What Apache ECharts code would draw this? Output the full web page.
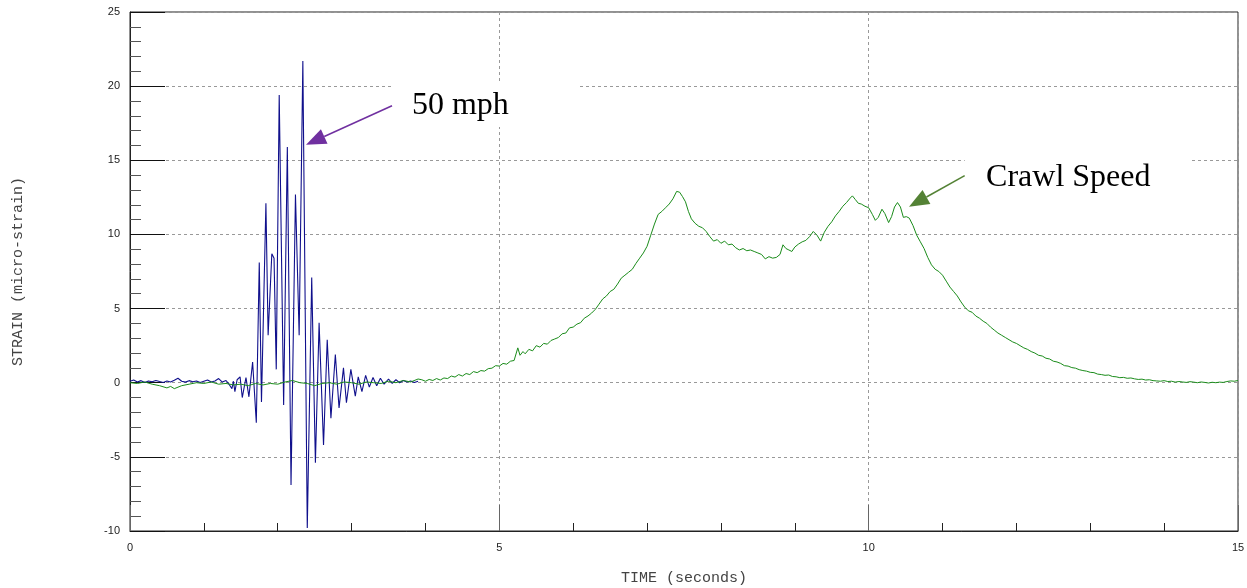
<!DOCTYPE html>
<html>
<head>
<meta charset="utf-8">
<script src="https://cdn.jsdelivr.net/npm/echarts@6/dist/echarts.min.js"></script>
<style>
  html, body { margin: 0; padding: 0; background: #fff; }
  #chart { width: 1247px; height: 588px; }
</style>
</head>
<body>
<div id="chart"></div>
<script>
// Strain record for one gauge: a truck passing at 50 mph and the same truck at crawl speed.
// Each entry is [time in seconds, strain in micro-strain].
const fastPass = [
  [0.00, 0.10], [0.05, 0.18], [0.10, 0.05], [0.15, 0.14], [0.20, 0.02], [0.25, 0.12],
  [0.30, 0.06], [0.35, 0.15], [0.40, 0.08], [0.45, 0.02], [0.50, 0.12], [0.55, 0.05],
  [0.60, 0.16], [0.65, 0.30], [0.70, 0.10], [0.75, 0.04], [0.80, 0.14], [0.85, 0.06],
  [0.90, 0.12], [0.95, 0.02], [1.00, 0.10], [1.05, 0.18], [1.10, 0.05], [1.15, 0.12],
  [1.20, 0.28], [1.25, 0.04], [1.30, 0.15], [1.34, -0.10], [1.38, -0.40], [1.40, 0.10],
  [1.42, -0.60], [1.45, 0.20], [1.49, 0.40], [1.52, -1.00], [1.57, 0.35], [1.61, -0.95],
  [1.66, 1.40], [1.71, -2.70], [1.75, 8.10], [1.78, -1.30], [1.84, 12.10], [1.87, 3.20],
  [1.92, 8.70], [1.95, 8.40], [1.98, 0.90], [2.02, 19.40], [2.08, -1.50], [2.13, 15.90],
  [2.18, -6.90], [2.24, 12.70], [2.29, 3.20], [2.34, 21.70], [2.40, -9.80], [2.46, 7.10],
  [2.51, -5.40], [2.56, 4.05], [2.62, -4.20], [2.67, 2.90], [2.72, -2.40], [2.78, 1.90],
  [2.83, -1.70], [2.89, 1.00], [2.93, -1.35], [2.99, 0.90], [3.05, -0.90], [3.09, 0.40],
  [3.14, -0.60], [3.19, 0.50], [3.24, -0.30], [3.29, 0.35], [3.34, -0.20], [3.39, 0.30],
  [3.44, -0.10], [3.50, 0.25], [3.55, -0.05], [3.60, 0.20], [3.65, 0.00], [3.70, 0.15],
  [3.75, 0.05], [3.80, 0.12], [3.85, 0.02], [3.90, 0.10]
];

const crawlPass = [
  [0.00, 0.00], [0.10, -0.05], [0.20, 0.05], [0.30, -0.10], [0.40, -0.20], [0.50, -0.35],
  [0.55, -0.25], [0.60, -0.40], [0.70, -0.20], [0.80, -0.10], [0.90, 0.00], [1.00, -0.05],
  [1.10, 0.05], [1.20, -0.10], [1.30, -0.05], [1.40, -0.15], [1.50, -0.10], [1.60, -0.20],
  [1.70, -0.05], [1.80, -0.15], [1.90, -0.05], [2.00, -0.10], [2.10, 0.05], [2.20, 0.15],
  [2.30, 0.00], [2.40, -0.05], [2.50, -0.20], [2.60, -0.05], [2.70, 0.00], [2.80, -0.10],
  [2.90, 0.05], [3.00, 0.00], [3.10, -0.10], [3.20, 0.05], [3.30, 0.00], [3.40, -0.05],
  [3.50, 0.10], [3.60, 0.00], [3.70, 0.15], [3.80, 0.05], [3.90, 0.25], [3.95, 0.20],
  [4.00, 0.10], [4.05, 0.22], [4.10, 0.15], [4.15, 0.28], [4.20, 0.18], [4.25, 0.32],
  [4.30, 0.28], [4.35, 0.45], [4.40, 0.38], [4.45, 0.55], [4.50, 0.45], [4.55, 0.62],
  [4.60, 0.55], [4.65, 0.75], [4.70, 0.68], [4.75, 0.82], [4.80, 0.78], [4.85, 0.95],
  [4.90, 0.98], [4.95, 1.15], [5.00, 1.12], [5.05, 1.30], [5.10, 1.25], [5.15, 1.45],
  [5.20, 1.50], [5.25, 2.35], [5.28, 1.85], [5.32, 2.10], [5.35, 1.95], [5.40, 2.25],
  [5.45, 2.15], [5.50, 2.50], [5.55, 2.40], [5.60, 2.65], [5.65, 2.60], [5.70, 2.85],
  [5.75, 2.95], [5.80, 3.05], [5.85, 3.30], [5.90, 3.35], [5.95, 3.70], [6.00, 3.75],
  [6.05, 3.95], [6.10, 4.05], [6.15, 4.35], [6.20, 4.50], [6.25, 4.70], [6.30, 4.95],
  [6.35, 5.30], [6.40, 5.65], [6.45, 5.85], [6.50, 6.15], [6.55, 6.30], [6.60, 6.65],
  [6.65, 7.05], [6.70, 7.25], [6.75, 7.45], [6.80, 7.65], [6.85, 8.05], [6.90, 8.40],
  [6.95, 8.75], [7.00, 9.20], [7.05, 9.95], [7.10, 10.70], [7.15, 11.35], [7.20, 11.55],
  [7.25, 11.80], [7.30, 12.05], [7.35, 12.40], [7.40, 12.90], [7.44, 12.85], [7.48, 12.55],
  [7.52, 12.20], [7.56, 11.55], [7.60, 11.05], [7.65, 10.75], [7.70, 10.55], [7.75, 10.45],
  [7.80, 10.20], [7.85, 9.85], [7.90, 9.55], [7.95, 9.65], [8.00, 9.40], [8.05, 9.55],
  [8.10, 9.30], [8.15, 9.35], [8.20, 9.10], [8.25, 8.95], [8.30, 9.05], [8.35, 8.90],
  [8.40, 8.95], [8.45, 8.85], [8.50, 8.75], [8.55, 8.65], [8.60, 8.35], [8.65, 8.50],
  [8.70, 8.40], [8.75, 8.45], [8.80, 8.65], [8.84, 9.30], [8.88, 9.05], [8.92, 8.95],
  [8.96, 8.85], [9.00, 9.15], [9.05, 9.35], [9.10, 9.50], [9.15, 9.60], [9.20, 9.85],
  [9.25, 10.20], [9.30, 9.95], [9.35, 9.55], [9.40, 10.15], [9.45, 10.55], [9.50, 10.85],
  [9.55, 11.25], [9.60, 11.55], [9.65, 11.90], [9.70, 12.15], [9.75, 12.45], [9.78, 12.60],
  [9.82, 12.35], [9.86, 12.10], [9.90, 12.05], [9.95, 11.90], [10.00, 11.80], [10.05, 11.35],
  [10.09, 10.95], [10.13, 11.15], [10.18, 11.70], [10.22, 11.40], [10.27, 10.80], [10.31, 11.20],
  [10.35, 11.85], [10.39, 12.15], [10.43, 11.85], [10.47, 11.15], [10.51, 11.20], [10.55, 11.10],
  [10.60, 10.60], [10.65, 9.95], [10.70, 9.50], [10.75, 9.05], [10.80, 8.45], [10.85, 7.95],
  [10.90, 7.65], [10.95, 7.50], [11.00, 7.25], [11.05, 6.85], [11.10, 6.45], [11.15, 6.15],
  [11.20, 5.85], [11.25, 5.45], [11.30, 5.10], [11.35, 4.85], [11.40, 4.75], [11.45, 4.50],
  [11.50, 4.35], [11.55, 4.15], [11.60, 4.00], [11.65, 3.75], [11.70, 3.55], [11.75, 3.35],
  [11.80, 3.20], [11.85, 3.05], [11.90, 2.90], [11.95, 2.75], [12.00, 2.65], [12.05, 2.50],
  [12.10, 2.35], [12.15, 2.25], [12.20, 2.10], [12.25, 2.00], [12.30, 1.85], [12.35, 1.80],
  [12.40, 1.65], [12.45, 1.60], [12.50, 1.45], [12.55, 1.40], [12.60, 1.30], [12.65, 1.15],
  [12.70, 1.12], [12.75, 1.02], [12.80, 0.98], [12.85, 0.88], [12.90, 0.82], [12.95, 0.78],
  [13.00, 0.70], [13.05, 0.68], [13.10, 0.58], [13.15, 0.55], [13.20, 0.50], [13.25, 0.52],
  [13.30, 0.42], [13.35, 0.40], [13.40, 0.34], [13.45, 0.36], [13.50, 0.30], [13.55, 0.32],
  [13.60, 0.26], [13.65, 0.22], [13.70, 0.24], [13.75, 0.18], [13.80, 0.20], [13.85, 0.14],
  [13.90, 0.12], [13.95, 0.10], [14.00, 0.14], [14.05, 0.08], [14.10, 0.10], [14.15, 0.04],
  [14.20, 0.08], [14.25, 0.05], [14.30, 0.02], [14.35, 0.07], [14.40, 0.04], [14.45, 0.00],
  [14.50, 0.05], [14.55, 0.02], [14.60, -0.02], [14.65, 0.03], [14.70, 0.00], [14.75, 0.04],
  [14.80, 0.02], [14.85, 0.08], [14.90, 0.12], [14.95, 0.10], [15.00, 0.15]
];

// Axis extents and tick spacing
const timeRange = [0, 15];
const strainRange = [-10, 25];
const majorStep = 5;

// Callout text and the data points their arrows point at
const fastLabel = '50 mph';
const crawlLabel = 'Crawl Speed';
const fastArrow = { tip: [2.383, 16.05], tail: [3.547, 18.68], text: [3.817, 18.72] };
const crawlArrow = { tip: [10.546, 11.87], tail: [11.30, 13.96], text: [11.59, 13.82] };

const chart = echarts.init(document.getElementById('chart'), null, { renderer: 'canvas' });

const axisFont = { fontFamily: 'Liberation Sans, Arial, sans-serif', fontSize: 11, color: '#222' };
const nameFont = { fontFamily: 'Liberation Mono, Courier New, monospace', fontSize: 15, color: '#444' };

chart.setOption({
  animation: false,
  backgroundColor: '#fff',
  grid: {
    left: 130, right: 9, top: 12, bottom: 57, show: true, borderColor: '#222', borderWidth: 1,
    containLabel: false, outerBoundsMode: 'none'
  },
  xAxis: {
    type: 'value', min: timeRange[0], max: timeRange[1], interval: majorStep,
    name: 'TIME (seconds)', nameLocation: 'middle', nameGap: 40, nameTextStyle: nameFont,
    axisLine: { show: true, onZero: false, lineStyle: { color: '#222', width: 1 } },
    axisTick: { show: true, inside: true, length: 26, lineStyle: { color: '#666' } },
    minorTick: { show: true, splitNumber: 5, length: 8, lineStyle: { color: '#222' } },
    axisLabel: Object.assign({ margin: 11 }, axisFont),
    splitLine: { show: true, lineStyle: { color: '#999', type: [3, 3], width: 1 } }
  },
  yAxis: {
    type: 'value', min: strainRange[0], max: strainRange[1], interval: majorStep,
    name: 'STRAIN (micro-strain)', nameLocation: 'middle', nameGap: 104, nameTextStyle: nameFont,
    axisLine: { show: true, onZero: false, lineStyle: { color: '#222', width: 1 } },
    axisTick: { show: true, inside: true, length: 35, lineStyle: { color: '#111' } },
    minorTick: { show: true, splitNumber: 5, length: 11, lineStyle: { color: '#555' } },
    axisLabel: Object.assign({ margin: 10 }, axisFont),
    splitLine: { show: true, lineStyle: { color: '#999', type: [3, 3], width: 1 } }
  },
  series: [
    {
      name: '50 mph', type: 'line', data: fastPass, showSymbol: false, symbol: 'none',
      lineStyle: { color: '#10108c', width: 1.1 }, z: 3
    },
    {
      name: 'Crawl Speed', type: 'line', data: crawlPass, showSymbol: false, symbol: 'none',
      lineStyle: { color: '#1a8c1a', width: 1 }, z: 4
    }
  ]
});

// Arrow callouts, placed from data coordinates
function px(pt) { return chart.convertToPixel({ gridIndex: 0 }, pt); }

function arrow(spec, color) {
  const tip = px(spec.tip), tail = px(spec.tail);
  const dx = tip[0] - tail[0], dy = tip[1] - tail[1];
  const len = Math.hypot(dx, dy), ux = dx / len, uy = dy / len;
  const headLen = 20, headHalf = 8;
  const bx = tip[0] - ux * headLen, by = tip[1] - uy * headLen;
  return [
    { type: 'line', z: 20, shape: { x1: tail[0], y1: tail[1], x2: bx, y2: by },
      style: { stroke: color, lineWidth: 1.5 } },
    { type: 'polygon', z: 20,
      shape: { points: [tip, [bx - uy * headHalf, by + ux * headHalf], [bx + uy * headHalf, by - ux * headHalf]] },
      style: { fill: color } }
  ];
}

function callout(spec, label, boxWidth, boxHeight) {
  const t = px(spec.text), tail = px(spec.tail);
  return [
    { type: 'rect', z: 15, shape: { x: tail[0], y: t[1] - boxHeight / 2, width: boxWidth, height: boxHeight },
      style: { fill: '#fff' } },
    { type: 'text', z: 21, x: t[0], y: t[1],
      style: { text: label, fill: '#000', font: '32px "Liberation Serif", "Times New Roman", serif',
               verticalAlign: 'middle', align: 'left' } }
  ];
}

chart.setOption({
  graphic: [].concat(
    callout(fastArrow, fastLabel, 186, 44),
    arrow(fastArrow, '#7030a0'),
    callout(crawlArrow, crawlLabel, 225, 48),
    arrow(crawlArrow, '#548235')
  )
});
</script>
</body>
</html>
